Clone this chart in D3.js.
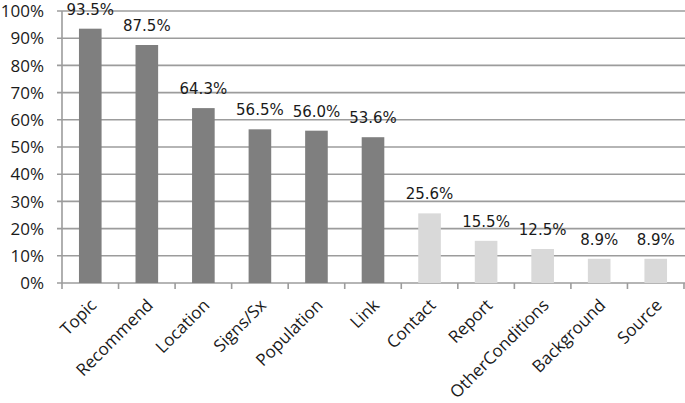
<!DOCTYPE html>
<html>
<head>
<meta charset="utf-8">
<script src="https://cdn.jsdelivr.net/npm/d3@7"></script>
<style>
  body { margin: 0; background: #fff; }
</style>
</head>
<body>
<script>
var width = 685, height = 403

var categories = ["Topic", "Recommend", "Location", "Signs/Sx", "Population", "Link",
  "Contact", "Report", "OtherConditions", "Background", "Source"]
var values = [93.5, 87.5, 64.3, 56.5, 56.0, 53.6, 25.6, 15.5, 12.5, 8.9, 8.9]
var groups = ["a", "a", "a", "a", "a", "a", "b", "b", "b", "b", "b"]
var yTicks = [0, 10, 20, 30, 40, 50, 60, 70, 80, 90, 100]

var margin = {left: 62, right: 1, top: 11, bottom: 120}

var x = d3.scaleBand()
    .domain(categories)
    .range([margin.left, width - margin.right])
    .paddingInner(0.6)
    .paddingOuter(0.3)

var y = d3.scaleLinear()
    .domain([0, 100])
    .range([height - margin.bottom, margin.top])

var color = d3.scaleOrdinal()
    .domain(["a", "b"])
    .range(["#7f7f7f", "#d9d9d9"])

var svg = d3.select("body").append("svg")
    .attr("width", width)
    .attr("height", height)

// gridlines
svg.append("g")
  .selectAll("line")
  .data(yTicks)
  .enter().append("line")
    .attr("x1", margin.left - 5)
    .attr("x2", width)
    .attr("y1", function(d) { return y(d) })
    .attr("y2", function(d) { return y(d) })
    .attr("stroke", "#9c9c9c")
    .attr("stroke-width", 1.6)

// y axis line
svg.append("line")
    .attr("x1", margin.left).attr("x2", margin.left)
    .attr("y1", y(100)).attr("y2", y(0))
    .attr("stroke", "#9c9c9c")
    .attr("stroke-width", 1.6)

// y labels
svg.append("g")
  .selectAll("text")
  .data(yTicks)
  .enter().append("text")
    .attr("x", margin.left - 18)
    .attr("y", function(d) { return y(d) })
    .attr("dy", "0.36em")
    .attr("text-anchor", "end")
    .style("font-family", "'Open Sans', sans-serif")
    .style("font-size", "17px")
    .attr("fill", "#1a1a1a")
    .text(function(d) { return d + "%" })

// x ticks at band boundaries
var step = x.step()
var bounds = d3.range(categories.length + 1).map(function(i) { return margin.left + i * step })
svg.append("g")
  .selectAll("line")
  .data(bounds)
  .enter().append("line")
    .attr("x1", function(d) { return d })
    .attr("x2", function(d) { return d })
    .attr("y1", y(0))
    .attr("y2", y(0) + 6)
    .attr("stroke", "#9c9c9c")
    .attr("stroke-width", 1.6)

// bars
svg.append("g")
  .selectAll("rect")
  .data(values)
  .enter().append("rect")
    .attr("x", function(d, i) { return x(categories[i]) })
    .attr("y", function(d) { return y(d) })
    .attr("width", x.bandwidth())
    .attr("height", function(d) { return y(0) - y(d) })
    .attr("fill", function(d, i) { return color(groups[i]) })

// value labels
svg.append("g")
  .selectAll("text")
  .data(values)
  .enter().append("text")
    .attr("x", function(d, i) { return x(categories[i]) + x.bandwidth() / 2 })
    .attr("y", function(d) { return y(d) - 14 })
    .attr("text-anchor", "middle")
    .style("font-family", "'DejaVu Sans', sans-serif")
    .style("font-size", "15px")
    .attr("fill", "#1a1a1a")
    .text(function(d) { return d.toFixed(1) + "%" })

// category labels, rotated
svg.append("g")
  .selectAll("text")
  .data(categories)
  .enter().append("text")
    .attr("transform", function(d) {
      return "translate(" + (x(d) + x.bandwidth() / 2 + 3) + "," + (y(0) + 19) + ") rotate(-45)"
    })
    .attr("dy", "0.36em")
    .attr("text-anchor", "end")
    .style("font-family", "'Open Sans', sans-serif")
    .style("font-size", "17px")
    .attr("fill", "#1a1a1a")
    .text(function(d) { return d })
</script>
</body>
</html>
